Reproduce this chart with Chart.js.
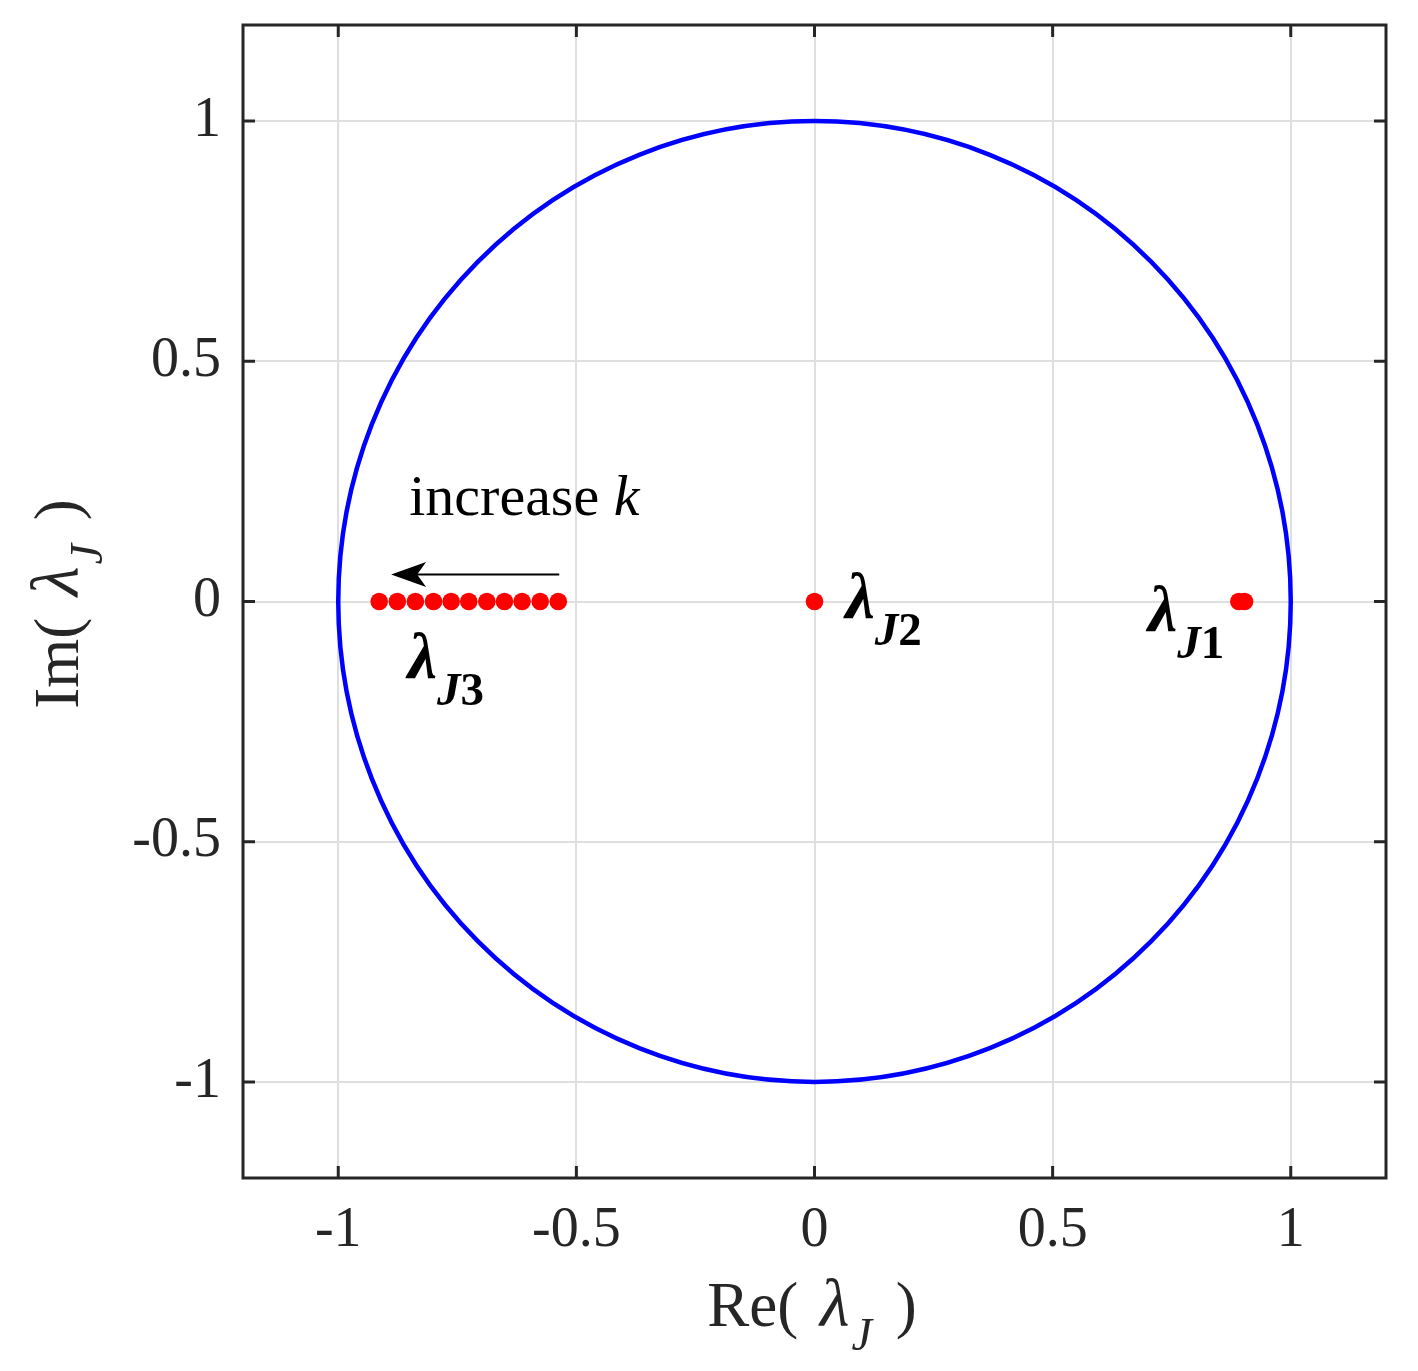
<!DOCTYPE html>
<html>
<head>
<meta charset="utf-8">
<script src="https://cdn.jsdelivr.net/npm/chart.js@4"></script>
<style>
  html, body { margin: 0; padding: 0; background: #ffffff; }
  #wrap { width: 1418px; height: 1371px; }
</style>
</head>
<body>
<div id="wrap"><canvas id="c" width="1418" height="1371"></canvas></div>
<script>
// ---------- data ----------
const lambdaJ3Re = [-0.914, -0.876, -0.838, -0.800, -0.763, -0.726, -0.688, -0.651, -0.614, -0.576, -0.538];
const lambdaJ3Im = [0, 0, 0, 0, 0, 0, 0, 0, 0, 0, 0];
const lambdaJ2Re = [0];
const lambdaJ2Im = [0];
const lambdaJ1Re = [0.891, 0.903];
const lambdaJ1Im = [0, 0];
const unitCircleRadius = 1;
const xTickValues = [-1, -0.5, 0, 0.5, 1];
const yTickValues = [-1, -0.5, 0, 0.5, 1];
const xTickLabels = ['-1', '-0.5', '0', '0.5', '1'];
const yTickLabels = ['-1', '-0.5', '0', '0.5', '1'];
const axisRange = [-1.2, 1.2];
const arrowFrom = [-0.536, 0.056];
const arrowTo = [-0.889, 0.056];

// ---------- styles / positions ----------
const SERIF = '"Liberation Serif", "Times New Roman", serif';
const AXIS_COLOR = '#262626';
const GRID_COLOR = '#dfdfdf';

function pts(re, im) { return re.map((x, i) => ({ x: x, y: im[i] })); }

const labelAnchors = [
  { x: 0.065, y: -0.035, sub: '2' },
  { x: 0.700, y: -0.062, sub: '1' },
  { x: -0.854, y: -0.160, sub: '3' }
];
const increaseAnchor = { x: -0.851, y: 0.180 };

function drawRuns(ctx, runs, x, y, align) {
  let total = 0;
  runs.forEach(r => { ctx.font = r.font; r.w = ctx.measureText(r.text).width; total += r.w + (r.dx || 0); });
  let cx = align === 'center' ? x - total / 2 : x;
  runs.forEach(r => {
    ctx.font = r.font;
    cx += (r.dx || 0);
    ctx.fillText(r.text, cx, y + (r.dy || 0));
    cx += r.w;
  });
}

const decorPlugin = {
  id: 'decor',
  beforeDatasetsDraw(chart) {
    const ctx = chart.ctx;
    const xs = chart.scales.x, ys = chart.scales.y;
    const cx = xs.getPixelForValue(0), cy = ys.getPixelForValue(0);
    const rx = Math.abs(xs.getPixelForValue(unitCircleRadius) - cx);
    const ry = Math.abs(ys.getPixelForValue(unitCircleRadius) - cy);
    ctx.save();
    ctx.strokeStyle = '#0000ff';
    ctx.lineWidth = 4.5;
    ctx.beginPath();
    ctx.ellipse(cx, cy, rx, ry, 0, 0, Math.PI * 2);
    ctx.stroke();
    ctx.restore();
  },
  afterDraw(chart) {
    const ctx = chart.ctx;
    const xs = chart.scales.x, ys = chart.scales.y;
    const a = chart.chartArea;
    ctx.save();
    // box
    ctx.strokeStyle = AXIS_COLOR;
    ctx.lineWidth = 3;
    ctx.strokeRect(a.left, a.top, a.right - a.left, a.bottom - a.top);
    // inward ticks
    const tl = 12;
    ctx.lineWidth = 3;
    ctx.beginPath();
    xTickValues.forEach(v => {
      const px = xs.getPixelForValue(v);
      ctx.moveTo(px, a.bottom); ctx.lineTo(px, a.bottom - tl);
      ctx.moveTo(px, a.top); ctx.lineTo(px, a.top + tl);
    });
    yTickValues.forEach(v => {
      const py = ys.getPixelForValue(v);
      ctx.moveTo(a.left, py); ctx.lineTo(a.left + tl, py);
      ctx.moveTo(a.right, py); ctx.lineTo(a.right - tl, py);
    });
    ctx.stroke();

    // arrow
    const x0 = xs.getPixelForValue(arrowFrom[0]), y0 = ys.getPixelForValue(arrowFrom[1]);
    const x1 = xs.getPixelForValue(arrowTo[0]), y1 = ys.getPixelForValue(arrowTo[1]);
    ctx.strokeStyle = '#000';
    ctx.fillStyle = '#000';
    ctx.lineWidth = 2;
    ctx.beginPath();
    ctx.moveTo(x0, y0); ctx.lineTo(x1 + 24, y1);
    ctx.stroke();
    ctx.beginPath();
    ctx.moveTo(x1, y1);
    ctx.lineTo(x1 + 35, y1 - 12.5);
    ctx.lineTo(x1 + 26, y1);
    ctx.lineTo(x1 + 35, y1 + 12.5);
    ctx.closePath();
    ctx.fill();

    // lambda labels
    ctx.textBaseline = 'alphabetic';
    ctx.textAlign = 'left';
    ctx.fillStyle = '#000';
    labelAnchors.forEach(l => {
      const px = xs.getPixelForValue(l.x), py = ys.getPixelForValue(l.y);
      drawRuns(ctx, [
        { text: 'λ', font: 'bold italic 66px ' + SERIF },
        { text: 'J', font: 'bold italic 47px ' + SERIF, dy: 27, dx: 0 },
        { text: l.sub, font: 'bold 47px ' + SERIF, dy: 27 }
      ], px, py, 'left');
    });
    // increase k
    {
      const px = xs.getPixelForValue(increaseAnchor.x), py = ys.getPixelForValue(increaseAnchor.y);
      drawRuns(ctx, [
        { text: 'increase ', font: '58px ' + SERIF },
        { text: 'k', font: 'italic 58px ' + SERIF }
      ], px, py, 'left');
    }

    // axis titles
    ctx.fillStyle = AXIS_COLOR;
    const titleRuns = (a) => [
      { text: a + '( ', font: '63px ' + SERIF },
      { text: 'λ', font: 'italic 68px ' + SERIF, dx: 6 },
      { text: 'J', font: 'italic 46px ' + SERIF, dy: 24, dx: 2 },
      { text: ' )', font: '63px ' + SERIF, dx: 8 }
    ];
    drawRuns(ctx, titleRuns('Re'), 812, 1326, 'center');
    ctx.translate(78, 604);
    ctx.rotate(-Math.PI / 2);
    drawRuns(ctx, titleRuns('Im'), 0, 0, 'center');
    ctx.restore();
  }
};

const tickFont = { family: SERIF, size: 56 };

new Chart(document.getElementById('c'), {
  type: 'scatter',
  data: {
    datasets: [
      { label: 'λJ3', data: pts(lambdaJ3Re, lambdaJ3Im), backgroundColor: '#ff0000', borderWidth: 0, pointRadius: 8.8, pointHoverRadius: 8.8 },
      { label: 'λJ2', data: pts(lambdaJ2Re, lambdaJ2Im), backgroundColor: '#ff0000', borderWidth: 0, pointRadius: 8.8, pointHoverRadius: 8.8 },
      { label: 'λJ1', data: pts(lambdaJ1Re, lambdaJ1Im), backgroundColor: '#ff0000', borderWidth: 0, pointRadius: 8.8, pointHoverRadius: 8.8 }
    ]
  },
  options: {
    responsive: false,
    animation: false,
    devicePixelRatio: 1,
    layout: { padding: { top: 25, right: 32, left: 0, bottom: 0 } },
    plugins: { legend: { display: false }, tooltip: { enabled: false } },
    scales: {
      x: {
        type: 'linear',
        min: axisRange[0], max: axisRange[1],
        afterBuildTicks: (s) => { s.ticks = xTickValues.map(v => ({ value: v })); },
        afterFit: (s) => { s.height = 193; s.paddingLeft = 0; s.paddingRight = 0; },
        grid: { color: GRID_COLOR, lineWidth: 2, drawTicks: false },
        border: { display: false },
        ticks: {
          padding: 20,
          color: AXIS_COLOR,
          font: tickFont,
          maxRotation: 0,
          callback: (v) => { const i = xTickValues.indexOf(v); return i >= 0 ? xTickLabels[i] : ''; }
        }
      },
      y: {
        type: 'linear',
        min: axisRange[0], max: axisRange[1],
        afterBuildTicks: (s) => { s.ticks = yTickValues.map(v => ({ value: v })); },
        afterFit: (s) => { s.width = 243; s.paddingTop = 0; s.paddingBottom = 0; },
        grid: { color: GRID_COLOR, lineWidth: 2, drawTicks: false },
        border: { display: false },
        ticks: {
          padding: 22,
          color: AXIS_COLOR,
          font: tickFont,
          callback: (v) => { const i = yTickValues.indexOf(v); return i >= 0 ? yTickLabels[i] : ''; }
        }
      }
    }
  },
  plugins: [decorPlugin]
});
</script>
</body>
</html>
